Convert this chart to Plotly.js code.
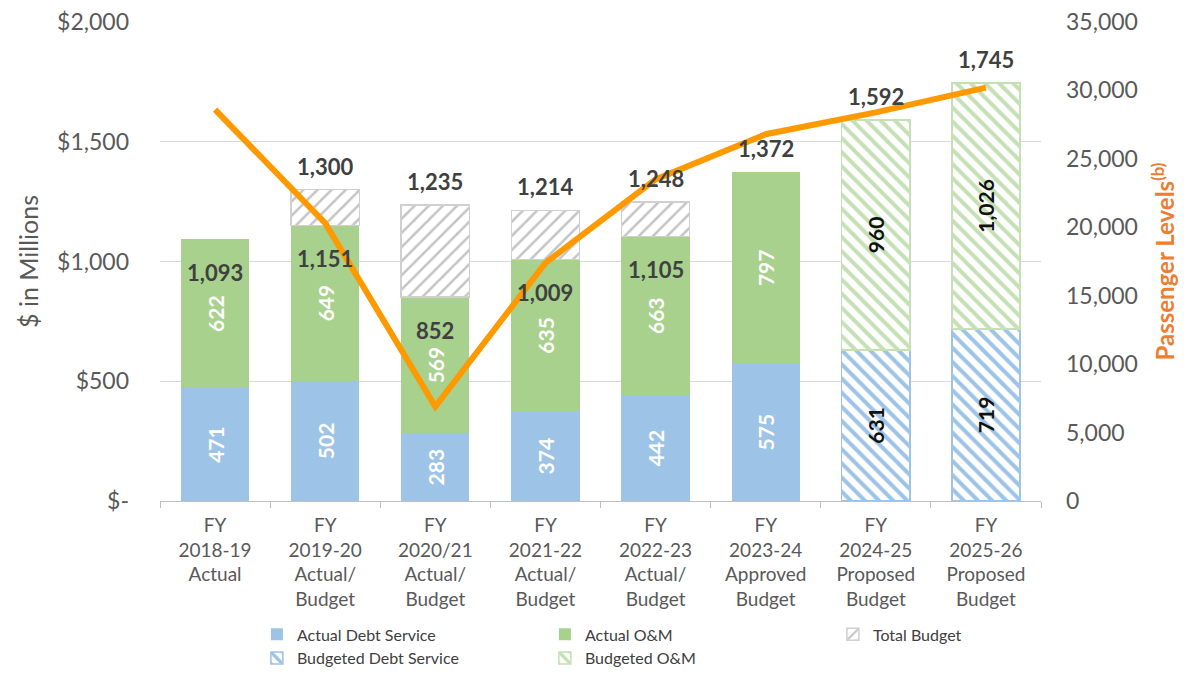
<!DOCTYPE html>
<html>
<head>
<meta charset="utf-8">
<script src="https://cdn.plot.ly/plotly-3.0.1.min.js"></script>
<style>html,body{margin:0;padding:0;background:#fff;}#chart{width:1184px;height:675px;}</style>
</head>
<body>
<div id="chart"></div>
<script>
const categories = [
  "FY<br>2018-19<br>Actual",
  "FY<br>2019-20<br>Actual/<br>Budget",
  "FY<br>2020/21<br>Actual/<br>Budget",
  "FY<br>2021-22<br>Actual/<br>Budget",
  "FY<br>2022-23<br>Actual/<br>Budget",
  "FY<br>2023-24<br>Approved<br>Budget",
  "FY<br>2024-25<br>Proposed<br>Budget",
  "FY<br>2025-26<br>Proposed<br>Budget"
];
const actualDebtService = [471, 502, 283, 374, 442, 575, null, null];
const actualOM = [622, 649, 569, 635, 663, 797, null, null];
const actualTotals = [1093, 1151, 852, 1009, 1105, null, null, null];
const totalBudget = [null, 1300, 1235, 1214, 1248, null, null, null];
const budgetedDebtService = [null, null, null, null, null, null, 631, 719];
const budgetedOM = [null, null, null, null, null, null, 960, 1026];
const topLabels = [null, 1300, 1235, 1214, 1248, 1372, 1592, 1745];
const passengerLevels = [28600, 20300, 6900, 17400, 23500, 26800, 28400, 30200];
const yTickVals = [0, 500, 1000, 1500, 2000];
const yTickText = ["$-", "$500", "$1,000", "$1,500", "$2,000"];

const FONT = "Lato, 'Open Sans', sans-serif";
const fmt = v => v.toLocaleString('en-US');
const budgetRemainder = totalBudget.map((t, i) => t == null ? null : t - actualTotals[i]);

const insideWhite = {family: FONT, size: 21, color: '#ffffff', weight: 700};
const insideBlack = {family: FONT, size: 21, color: '#111111', weight: 700};

const traces = [
  {type: 'bar', name: 'Actual Debt Service', x: categories, y: actualDebtService,
   marker: {color: '#9dc3e6'}, texttemplate: '%{y:,}', textposition: 'inside',
   insidetextanchor: 'middle', textangle: -90, insidetextfont: insideWhite, hoverinfo: 'y'},
  {type: 'bar', name: 'Actual O&M', x: categories, y: actualOM,
   marker: {color: '#a9d18e'}, texttemplate: '%{y:,}', textposition: 'inside',
   insidetextanchor: 'middle', textangle: -90, insidetextfont: insideWhite, hoverinfo: 'y'},
  {type: 'bar', name: 'Total Budget', x: categories, y: budgetRemainder,
   marker: {color: '#ffffff', line: {color: '#d0d0d0', width: 1.5},
            pattern: {shape: '/', fgcolor: '#c4c4c4', bgcolor: '#ffffff', size: 10, solidity: 0.25}},
   hoverinfo: 'y'},
  {type: 'bar', name: 'Budgeted Debt Service', x: categories, y: budgetedDebtService,
   marker: {color: '#ffffff', line: {color: '#9dc3e6', width: 1.5},
            pattern: {shape: '\\', fgcolor: '#9dc3e6', bgcolor: '#ffffff', size: 10, solidity: 0.4}},
   texttemplate: '%{y:,}', textposition: 'inside', insidetextanchor: 'middle', textangle: -90,
   insidetextfont: insideBlack, hoverinfo: 'y'},
  {type: 'bar', name: 'Budgeted O&M', x: categories, y: budgetedOM,
   marker: {color: '#ffffff', line: {color: '#c5e0b4', width: 1.5},
            pattern: {shape: '\\', fgcolor: '#c5e0b4', bgcolor: '#ffffff', size: 10, solidity: 0.4}},
   texttemplate: '%{y:,}', textposition: 'inside', insidetextanchor: 'middle', textangle: -90,
   insidetextfont: insideBlack, hoverinfo: 'y'},
  {type: 'scatter', mode: 'lines', name: 'Passenger Levels', x: categories, y: passengerLevels,
   yaxis: 'y2', line: {color: '#ff9900', width: 6}, showlegend: false}
];

const annotations = [];
actualTotals.forEach((v, i) => {
  if (v == null) return;
  annotations.push({x: categories[i], y: v, xref: 'x', yref: 'y', text: fmt(v), showarrow: false,
    yanchor: 'top', yshift: -18, font: {family: FONT, size: 22, color: '#404040', weight: 700}});
});
topLabels.forEach((v, i) => {
  if (v == null) return;
  annotations.push({x: categories[i], y: v, xref: 'x', yref: 'y', text: fmt(v), showarrow: false,
    yanchor: 'bottom', yshift: 8, font: {family: FONT, size: 22, color: '#404040', weight: 700}});
});

const layout = {
  width: 1184, height: 675,
  margin: {l: 160, r: 143, t: 22, b: 174, autoexpand: false},
  paper_bgcolor: '#ffffff', plot_bgcolor: '#ffffff',
  barmode: 'stack', bargap: 0.38,
  font: {family: FONT, color: '#595959'},
  showlegend: true,
  legend: {orientation: 'h', x: 0.11, xanchor: 'left', y: -0.243, yanchor: 'top',
           traceorder: 'normal', entrywidth: 243, entrywidthmode: 'pixels',
           font: {family: FONT, size: 16, color: '#404040'}, tracegroupgap: 0},
  xaxis: {type: 'category', range: [-0.5, 7.5], tickson: 'boundaries', ticks: 'outside',
          ticklen: 6, tickcolor: '#bfbfbf', showline: true, linecolor: '#bfbfbf', linewidth: 1,
          ticklabelstandoff: 7,
          tickfont: {family: FONT, size: 19, color: '#595959'}, fixedrange: true},
  yaxis: {range: [0, 2000], tickvals: yTickVals, ticktext: yTickText, showgrid: true,
          gridcolor: '#d9d9d9', zeroline: false, showline: false, ticks: '',
          ticklabelstandoff: 30,
          tickfont: {family: FONT, size: 23, color: '#595959'},
          title: {text: '$ in Millions', font: {family: FONT, size: 25, color: '#595959'}, standoff: 11}},
  yaxis2: {overlaying: 'y', side: 'right', range: [0, 35000], dtick: 5000, tickformat: ',d',
           showgrid: false, zeroline: false, showline: false, ticks: '', ticklabelstandoff: 24,
           tickfont: {family: FONT, size: 23, color: '#595959'},
           title: {text: 'Passenger Levels<sup>(b)</sup>', font: {family: FONT, size: 24, color: '#ed7d31', weight: 700}, standoff: 20}},
  annotations: annotations
};

Plotly.newPlot('chart', traces, layout, {displayModeBar: false, staticPlot: true});
</script>
</body>
</html>
